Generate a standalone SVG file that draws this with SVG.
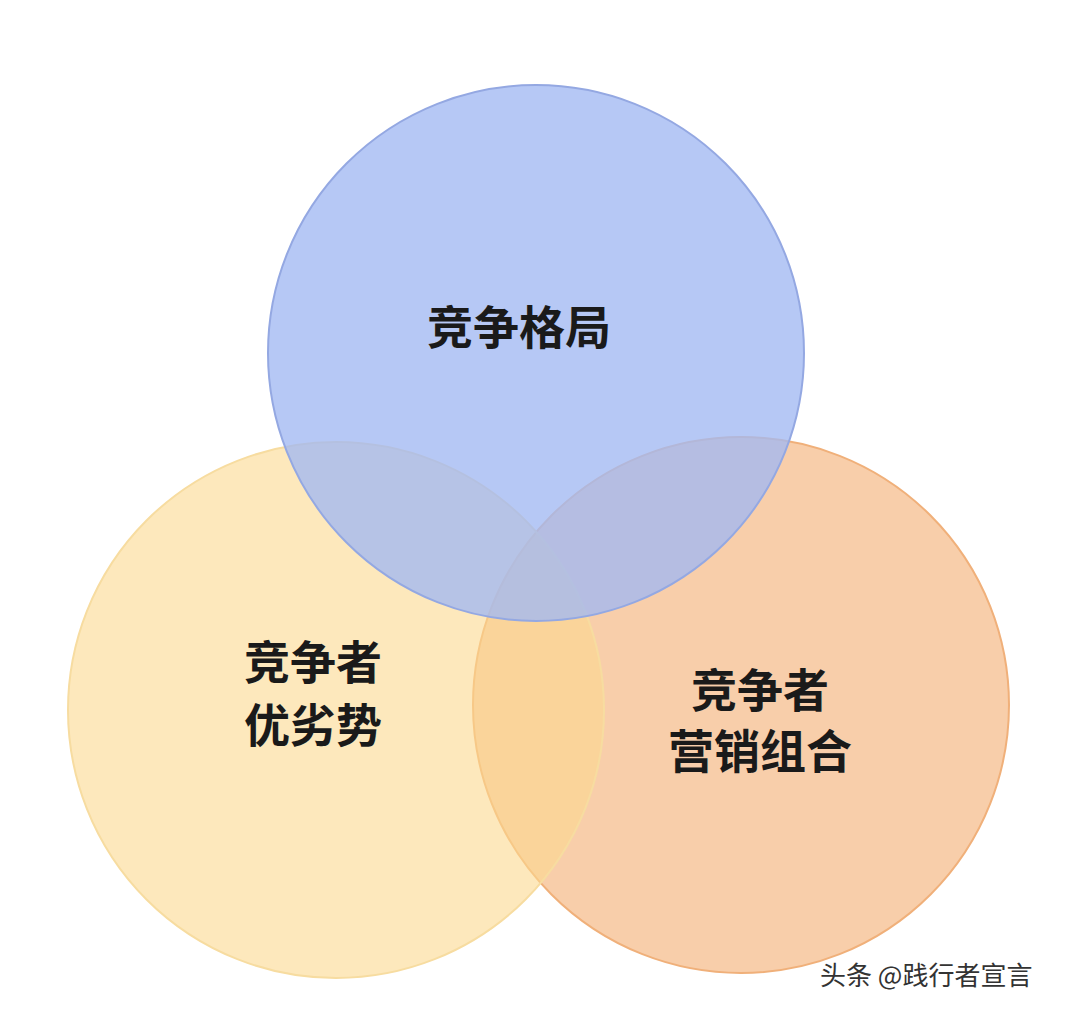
<svg xmlns="http://www.w3.org/2000/svg" width="1068" height="1014" viewBox="0 0 1068 1014">
<style>
.t{font-family:"Noto Sans CJK SC","Noto Sans",sans-serif;font-weight:bold;font-size:46px;fill:#1a1a1a;text-anchor:middle}
.w{font-family:"Noto Sans CJK SC","Noto Sans",sans-serif;font-size:26px;fill:#333}
</style>
<rect width="1068" height="1014" fill="#fff"/>
<g id="right"><circle cx="741" cy="705" r="268" fill="#f5bd8e" fill-opacity="0.75" stroke="#f0b07a" stroke-width="2"/></g>
<g id="left"><circle cx="336" cy="710" r="268" fill="#fcd98f" fill-opacity="0.6" stroke="#f7dca0" stroke-width="2"/></g>
<g id="top"><circle cx="536" cy="353" r="268" fill="#a2b8f2" fill-opacity="0.78" stroke="#94a8e2" stroke-width="2"/></g>
<g id="labels">
<text class="t" x="519" y="344">竞争格局</text>
<text class="t" x="313" y="679">竞争者</text>
<text class="t" x="313" y="742">优劣势</text>
<text class="t" x="760" y="707">竞争者</text>
<text class="t" x="760" y="768">营销组合</text>
</g>
<text class="w" x="820" y="985">头条 @践行者宣言</text>
<g id="connectors"/>
</svg>
